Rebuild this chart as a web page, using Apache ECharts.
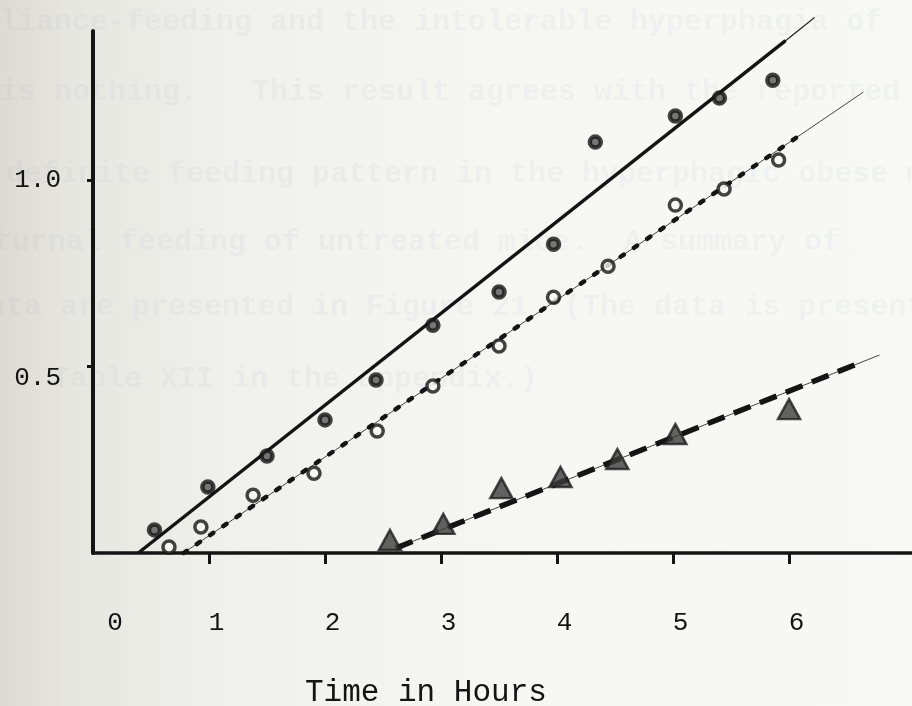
<!DOCTYPE html>
<html><head><meta charset="utf-8">
<script src="https://cdn.jsdelivr.net/npm/echarts@6/dist/echarts.min.js"></script>
<style>
html,body{margin:0;padding:0;background:#f6f6f3}
#chart{width:912px;height:706px;background:linear-gradient(90deg,#dbdbd3 0%,#e7e7e1 8%,#f0f0ec 25%,#f6f6f3 55%,#f8f8f6 100%)}
</style>
</head><body><div id="chart"></div>
<script>
// Filled dots (solid fitted line)
const hours1 = [0.53, 0.99, 1.50, 2.00, 2.44, 2.93, 3.50, 3.97, 4.33, 5.02, 5.40, 5.86];
const values1 = [0.062, 0.177, 0.26, 0.357, 0.464, 0.611, 0.70, 0.828, 1.102, 1.172, 1.22, 1.268];
// Open circles (dotted fitted line)
const hours2 = [0.655, 0.93, 1.38, 1.905, 2.45, 2.93, 3.50, 3.97, 4.44, 5.02, 5.44, 5.91];
const values2 = [0.016, 0.07, 0.155, 0.214, 0.327, 0.448, 0.555, 0.686, 0.769, 0.933, 0.976, 1.054];
// Triangles (dashed fitted line)
const hours3 = [2.56, 3.02, 3.52, 4.03, 4.52, 5.02, 6.00];
const values3 = [0.035, 0.078, 0.174, 0.204, 0.252, 0.319, 0.386];
// Fitted lines: start, end of heavy stroke, end of fine ruled extension
const fit1Hours = [0.39, 5.97, 6.22];
const fit1Values = [0.0, 1.374, 1.436];
const fit2Hours = [0.78, 6.11, 6.64];
const fit2Values = [0.0, 1.124, 1.236];
const fit3Hours = [2.61, 6.57, 6.78];
const fit3Values = [0.013, 0.505, 0.531];
// Axis ticks / labels
const xTickValues = [1, 2, 3, 4, 5, 6];
const xLabelValues = [0, 1, 2, 3, 4, 5, 6];
const yTickValues = [0.5, 1.0];
const xAxisTitle = 'Time in Hours';
// Faint bleed-through text from the reverse side of the page
const ghostLines = [
  'liance-feeding and the intolerable hyperphagia of',
  'is nothing.   This result agrees with the reported',
  'definite feeding pattern in the hyperphagic obese m',
  'nocturnal feeding of untreated mice.  A summary of',
  'data are presented in Figure 21  (The data is presented',
  'Table XII in the appendix.)'
];

const pts = (xs, ys) => xs.map((x, i) => [x, ys[i]]);
const font = '"Liberation Mono", "DejaVu Sans Mono", monospace';
const ink = '#141414';

const ghostPos = [[0, 23], [0, 93], [6, 175], [-60, 243], [-30, 308], [52, 380]];

const chart = echarts.init(document.getElementById('chart'), null, {renderer: 'canvas'});
chart.setOption({
  backgroundColor: 'transparent',
  animation: false,
  grid: {left: 93, right: 0, top: 31, bottom: 153, containLabel: false},
  xAxis: {
    type: 'value', min: 0, max: 7.06, interval: 1,
    splitLine: {show: false},
    axisLine: {show: true, onZero: false, lineStyle: {color: ink, width: 3.5}},
    axisTick: {show: true, customValues: xTickValues, length: 11, lineStyle: {color: ink, width: 3}},
    axisLabel: {
      customValues: xLabelValues, margin: 57,
      formatter: v => v === 0 ? '{z|0}' : '{n|' + v + '}',
      rich: {
        z: {fontFamily: font, fontSize: 26, color: ink, padding: [0, 0, 0, 44]},
        n: {fontFamily: font, fontSize: 26, color: ink, padding: [0, 0, 0, 15]}
      }
    }
  },
  yAxis: {
    type: 'value', min: 0, max: 1.4, interval: 0.5,
    splitLine: {show: false},
    axisLine: {show: true, onZero: false, lineStyle: {color: ink, width: 4}},
    axisTick: {show: true, customValues: yTickValues, length: 6, lineStyle: {color: ink, width: 3}},
    axisLabel: {
      customValues: yTickValues, margin: 32,
      formatter: v => v === 0.5 ? '{h|0.5}' : '{o|1.0}',
      rich: {
        h: {fontFamily: font, fontSize: 26, color: ink, padding: [24, 0, 0, 0]},
        o: {fontFamily: font, fontSize: 26, color: ink}
      }
    }
  },
  graphic: [
    ...ghostLines.map((t, i) => ({
      type: 'text', z: -10, silent: true,
      left: ghostPos[i][0], top: ghostPos[i][1] - 16,
      style: {text: t, font: 'bold 30px ' + font, fill: 'rgba(110,135,165,0.055)'}
    })),
    {
      type: 'text', silent: true, left: 305, top: 677,
      style: {text: xAxisTitle, font: '31px ' + font, fill: ink}
    }
  ],
  series: [
    // fine ruled lines under the heavy strokes
    {type: 'line', data: pts(fit1Hours, fit1Values), symbol: 'none', clip: false,
      lineStyle: {color: '#222', width: 1.2}, z: 1},
    {type: 'line', data: pts(fit2Hours, fit2Values), symbol: 'none', clip: false,
      lineStyle: {color: '#444', width: 1}, z: 1},
    {type: 'line', data: pts(fit3Hours, fit3Values), symbol: 'none', clip: false,
      lineStyle: {color: '#444', width: 1}, z: 1},
    // heavy strokes
    {type: 'line', data: pts(fit1Hours.slice(0, 2), fit1Values.slice(0, 2)), symbol: 'none', clip: false,
      lineStyle: {color: ink, width: 3.5}, z: 2},
    {type: 'line', data: pts(fit2Hours.slice(0, 2), fit2Values.slice(0, 2)), symbol: 'none', clip: false,
      lineStyle: {color: ink, width: 4.5, type: [4, 12], cap: 'round'}, z: 2},
    {type: 'line', data: pts(fit3Hours.slice(0, 2), fit3Values.slice(0, 2)), symbol: 'none', clip: false,
      lineStyle: {color: ink, width: 5.5, type: [18, 10]}, z: 2},
    // data points
    {type: 'scatter', data: pts(hours1, values1), symbol: 'circle', symbolSize: 11,
      itemStyle: {color: '#555', borderColor: ink, borderWidth: 4.5}, z: 5},
    {type: 'scatter', data: pts(hours2, values2), symbol: 'circle', symbolSize: 12,
      itemStyle: {color: '#f7f7f4', borderColor: ink, borderWidth: 3.5}, z: 5},
    {type: 'scatter', data: pts(hours3, values3), symbol: 'triangle', symbolSize: [22, 20],
      itemStyle: {color: '#3c3c3c', borderColor: '#1e1e1e', borderWidth: 2.5}, z: 5}
  ]
});
</script></body></html>
